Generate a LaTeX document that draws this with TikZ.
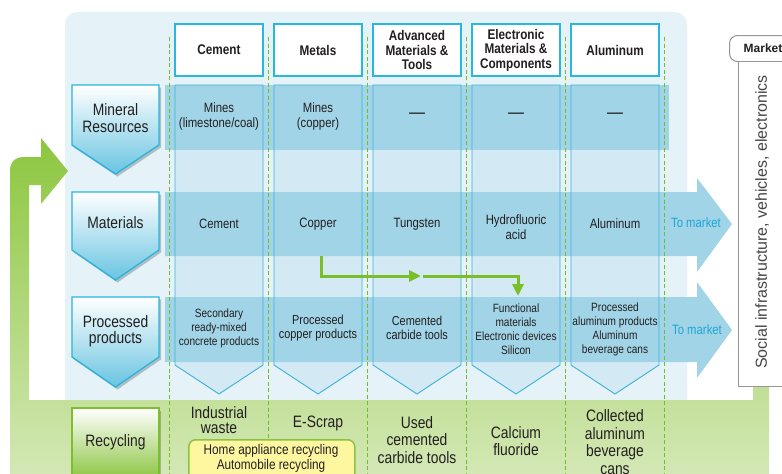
\documentclass[tikz,border=0pt]{standalone}
\usepackage{fontspec}
\setmainfont{Liberation Sans}[FakeStretch=0.84]
\newfontfamily\widesans{Liberation Sans}
\usetikzlibrary{arrows.meta}

\definecolor{ink}{RGB}{35,31,32}
\definecolor{panelbg}{RGB}{229,243,249}
\definecolor{colfill}{RGB}{211,234,245}
\definecolor{bandblue}{RGB}{160,212,230}
\definecolor{colline}{RGB}{60,176,216}
\definecolor{colline2}{RGB}{72,160,200}
\definecolor{hdrline}{RGB}{40,184,222}
\definecolor{labblue}{RGB}{104,196,226}
\definecolor{labline}{RGB}{40,180,220}
\definecolor{sepgreen}{RGB}{118,188,40}
\definecolor{loopdark}{RGB}{140,198,63}
\definecolor{looplight}{RGB}{212,232,182}
\definecolor{recgreen}{RGB}{138,196,62}
\definecolor{recline}{RGB}{125,190,46}
\definecolor{yfill}{RGB}{255,246,160}
\definecolor{flowgreen}{RGB}{122,190,40}
\definecolor{marketcyan}{RGB}{30,165,215}
\definecolor{mktgray}{RGB}{150,150,150}
\definecolor{socialgray}{RGB}{70,70,70}

\tikzset{
  hdr/.style={draw=hdrline, line width=1.8pt, fill=white, minimum width=88pt,
    minimum height=52pt, inner sep=0pt, align=center, text=ink,
    font=\fontsize{14}{14.4}\selectfont\bfseries},
  rowlab/.style={inner sep=0pt, align=center, text=ink,
    font=\fontsize{16.5}{16.5}\selectfont},
  cellA/.style={inner sep=0pt, align=center, text=ink,
    font=\fontsize{13.5}{15}\selectfont},
  cellB/.style={inner sep=0pt, align=center, text=ink,
    font=\fontsize{13}{14}\selectfont},
  cellC/.style={inner sep=0pt, align=center, text=ink,
    font=\fontsize{12}{14}\selectfont},
  dashcell/.style={inner sep=0pt, text=ink, font=\fontsize{19}{19}\selectfont},
  tomarket/.style={inner sep=0pt, text=marketcyan, font=\fontsize{13.5}{14}\selectfont},
  rec/.style={inner sep=0pt, align=center, text=ink,
    font=\fontsize{16.5}{17.6}\selectfont},
  sepline/.style={draw=sepgreen, line width=0.9pt, dash pattern=on 4pt off 2.5pt},
  flow/.style={draw=flowgreen, line width=3pt, -{Triangle[length=12pt,width=11pt]}},
  shadowed/.style={fill=black, opacity=0.22, xshift=2pt, yshift=-2.5pt},
}

\begin{document}
\begin{tikzpicture}[x=1pt,y=-1pt]
\useasboundingbox (0,0) rectangle (782,474);

% background panel of the supply chain
\fill[panelbg, rounded corners=12pt] (65,412) -- (65,12) -- (687,12) -- (687,412) -- cycle;

% recycling loop: market -> bottom band -> left bar -> back into the chain
\shade[top color=loopdark, bottom color=looplight]
  (753,380) -- (769,380) -- (769,476) -- (10,476) -- (10,171)
  .. controls (10,162) and (15,157) .. (24,157)
  -- (41,157) -- (41,138) -- (68,171) -- (41,204) -- (41,185)
  -- (29,185) -- (29,400) -- (753,400) -- cycle;

% industry columns (down arrows)
\foreach \i [evaluate=\i as \xa using 175+99*\i,
             evaluate=\i as \xb using 263+99*\i,
             evaluate=\i as \xc using 219+99*\i] in {0,...,4} {
  \fill[colfill] (\xa,85) -- (\xb,85) -- (\xb,365) -- (\xc,394) -- (\xa,365) -- cycle;
}

% stage bands
\fill[bandblue] (165,85) rectangle (669,150);
\fill[bandblue] (165,192) -- (697,192) -- (697,178) -- (732,224) -- (697,272)
  -- (697,256) -- (165,256) -- cycle;
\fill[bandblue] (165,297) -- (697,297) -- (697,282) -- (732,330) -- (697,378)
  -- (697,362) -- (165,362) -- cycle;

% column outlines
\foreach \i [evaluate=\i as \xa using 175+99*\i,
             evaluate=\i as \xb using 263+99*\i,
             evaluate=\i as \xc using 219+99*\i] in {0,...,4} {
  \draw[colline, line width=0.9pt] (\xa,85) -- (\xb,85) -- (\xb,365) -- (\xc,394)
    -- (\xa,365) -- cycle;
}

% dashed separators
\foreach \x in {169,268,367,466,565,664}
  \draw[sepline] (\x,37) -- (\x,476);

% column headers
\node[hdr] (hcem) at (219,50) {Cement};
\node[hdr] (hmet) at (318,50) {Metals};
\node[hdr] (hadv) at (417,50) {Advanced\\Materials \&\\Tools};
\node[hdr] (hele) at (516,50) {Electronic\\Materials \&\\Components};
\node[hdr] (halu) at (615,50) {Aluminum};

% stage labels
\foreach \t/\s/\b in {85/145/174, 192/250/280, 297/357/387} {
  \fill[shadowed] (72,\t) -- (159,\t) -- (159,\s) -- (115.5,\b) -- (72,\s) -- cycle;
  \shade[top color=white, bottom color=labblue]
    (72,\t) -- (159,\t) -- (159,\s) -- (115.5,\b) -- (72,\s) -- cycle;
  \draw[labline, line width=1.3pt]
    (72,\t) -- (159,\t) -- (159,\s) -- (115.5,\b) -- (72,\s) -- cycle;
}
\node[rowlab] (lmin) at (115.5,118) {Mineral\\Resources};
\node[rowlab] (lmat) at (115.5,223) {Materials};
\node[rowlab] (lpro) at (115.5,331) {Processed\\products};

% mineral resources row
\node[cellA] (m1) at (219,117) {Mines\\(limestone/coal)};
\node[cellA] (m2) at (318,117) {Mines\\(copper)};
\node[dashcell] (m3) at (417,116) {—};
\node[dashcell] (m4) at (516,116) {—};
\node[dashcell] (m5) at (615,116) {—};

% materials row
\node[cellA] (t1) at (219,224) {Cement};
\node[cellA] (t2) at (318,224) {Copper};
\node[cellA] (t3) at (417,224) {Tungsten};
\node[cellA] (t4) at (516,227) {Hydrofluoric\\acid};
\node[cellA] (t5) at (615,224) {Aluminum};
\node[tomarket] (mk1) at (696,223) {To market};

% processed products row
\node[cellC] (p1) at (219,328) {Secondary\\ready-mixed\\concrete products};
\node[cellB] (p2) at (318,328) {Processed\\copper products};
\node[cellB] (p3) at (417,328) {Cemented\\carbide tools};
\node[cellC] (p4) at (516,329) {Functional\\materials\\Electronic devices\\Silicon};
\node[cellC] (p5) at (615,329) {Processed\\aluminum products\\Aluminum\\beverage cans};
\node[tomarket] (mk2) at (697,330) {To market};

% copper flow into other products
\coordinate (cuout) at (321,256);
\coordinate (junc) at (421,276);
\coordinate (juncout) at (423,276);
\coordinate (fmin) at (518,296);
\draw[flow] (cuout) |- (junc);
\draw[flow] (juncout) -| (fmin);

% recycling row
\fill[shadowed] (72,408) rectangle (159,480);
\shade[top color=white, bottom color=recgreen] (72,408) rectangle (159,480);
\draw[recline, line width=1.5pt] (72,480) -- (72,408) -- (159,408) -- (159,480);
\node[rec] (lrec) at (115.5,442) {Recycling};

\node[rec, font=\fontsize{16.5}{15}\selectfont] (r1) at (219,420) {Industrial\\waste};
\node[rec] (r2) at (318,423) {E-Scrap};
\node[rec] (r3) at (417,440) {Used\\cemented\\carbide tools};
\node[rec] (r4) at (516,441) {Calcium\\fluoride};
\node[rec] (r5) at (615,442) {Collected\\aluminum\\beverage\\cans};

\node[draw=recgreen, line width=1.5pt, fill=yfill, rounded corners=7pt,
  minimum width=166pt, minimum height=50pt, anchor=north west] (ybox) at (188,439) {};
\node[cellA, font=\fontsize{14}{15}\selectfont] (ytext) at (271,458.5)
  {Home appliance recycling\\Automobile recycling};

% market
\node[draw=mktgray, line width=1pt, fill=white, rounded corners=8pt,
  minimum width=67pt, minimum height=26pt, anchor=north west] (mkt) at (729,35) {};
\node[draw=mktgray, line width=1pt, fill=white,
  minimum width=62pt, minimum height=325pt, anchor=north west] (mbox) at (738,61) {};
\node[inner sep=0pt, text=ink, font=\widesans\fontsize{12}{12}\selectfont\bfseries]
  (mktlab) at (763,48) {Market};
\node[inner sep=0pt, rotate=90, text=socialgray, font=\widesans\fontsize{16}{16}\selectfont]
  (social) at (762,222) {Social infrastructure, vehicles, electronics};
\end{tikzpicture}
\end{document}
